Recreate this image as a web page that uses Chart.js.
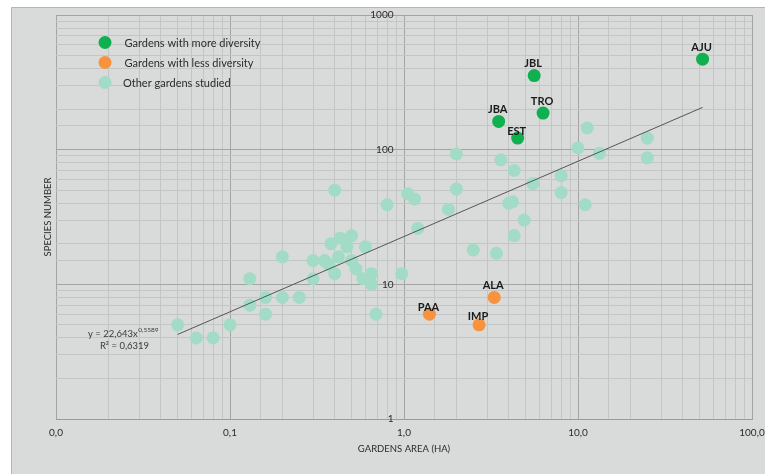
<!DOCTYPE html>
<html>
<head>
<meta charset="utf-8">
<script src="https://cdn.jsdelivr.net/npm/chart.js@4"></script>
<style>
  html, body { margin: 0; padding: 0; background: #ffffff; }
  #wrap { position: relative; width: 765px; height: 474px; }
  canvas { display: block; }
</style>
</head>
<body>
<div id="wrap"><canvas id="chart" width="765" height="474"></canvas></div>
<script>
// Species richness of urban gardens against their area (log-log)

// Gardens with more diversity
const moreNames   = ['AJU', 'JBL', 'TRO', 'JBA', 'EST'];
const moreArea    = [52, 5.6, 6.3, 3.5, 4.5];
const moreSpecies = [470, 355, 187, 162, 122];

// Gardens with less diversity
const lessNames   = ['ALA', 'PAA', 'IMP'];
const lessArea    = [3.3, 1.4, 2.7];
const lessSpecies = [8, 6, 5];

// Other gardens studied
const otherArea = [
  0.05, 0.064, 0.08, 0.1, 0.13, 0.13, 0.16, 0.16, 0.2, 0.2,
  0.25, 0.3, 0.3, 0.35, 0.37, 0.38, 0.43, 0.5, 0.47, 0.6,
  0.42, 0.5, 0.4, 0.53, 0.58, 0.65, 0.65, 0.69, 0.4, 0.8,
  0.97, 1.05, 1.15, 1.2, 1.8, 2.0, 2.0, 2.5, 3.4, 3.6,
  4.0, 4.2, 4.3, 4.3, 4.9, 5.5, 8, 8, 10, 11,
  11.3, 13.3, 25, 25
];
const otherSpecies = [
  5, 4, 4, 5, 11, 7, 8, 6, 16, 8,
  8, 15, 11, 15, 14, 20, 22, 23, 19, 19,
  16, 15, 12, 13, 11, 12, 10, 6, 50, 39,
  12, 47, 43, 26, 36, 93, 51, 18, 17, 84,
  40, 41, 70, 23, 30, 56, 64, 48, 103, 39,
  145, 94, 122, 87
];

// Power-law fit y = a * x^b, as reported with the chart
const fitA = 22.643;
const fitB = 0.5589;
const fitLabel = 'y = 22,643x';
const fitExpLabel = '0,5589';
const fitR2Label = 'R\u00B2 = 0,6319';

// Axis range (log decades)
const xMin = 0.01, xMax = 100;
const yMin = 1, yMax = 1000;
// species labels sit just left of the 1 ha line
const yLabelsAt = 0.87;

const legendLabels = ['Gardens with more diversity', 'Gardens with less diversity', 'Other gardens studied'];
const xTitle = 'GARDENS AREA (HA)';
const yTitle = 'SPECIES NUMBER';

const COL_MORE = '#0fb04f';
const COL_LESS = '#f7923f';
const COL_OTHER = '#a2dcc6';
const FONT = 'Lato, "Open Sans", sans-serif';

const toPoints = (xs, ys) => xs.map((x, i) => ({ x: x, y: ys[i] }));

const allArea = moreArea.concat(lessArea, otherArea);
const fitX0 = Math.min(...allArea);
const fitX1 = Math.max(...allArea);
const fitPoints = [fitX0, fitX1].map(x => ({ x: x, y: fitA * Math.pow(x, fitB) }));

const isDecade = v => {
  const l = Math.log10(v);
  return Math.abs(l - Math.round(l)) < 1e-6;
};

const gridColor = ctx => (ctx.tick && isDecade(ctx.tick.value)) ? '#a3a4a4' : '#c4c5c5';

// labels may overhang the plot without shrinking it
const noOverhang = scale => {
  scale.paddingLeft = 0;
  scale.paddingRight = 0;
  scale.paddingTop = 0;
  scale.paddingBottom = 0;
};

// Grey panel behind the chart
const panelPlugin = {
  id: 'panel',
  beforeDraw(chart) {
    const c = chart.ctx;
    c.save();
    c.fillStyle = '#ffffff';
    c.fillRect(0, 0, chart.width, chart.height);
    c.fillStyle = '#d9dada';
    c.fillRect(11, 7, chart.width - 11, chart.height - 7);
    c.strokeStyle = '#b4b5b5';
    c.lineWidth = 1;
    c.beginPath();
    c.moveTo(11.5, chart.height);
    c.lineTo(11.5, 7.5);
    c.lineTo(chart.width, 7.5);
    c.stroke();
    c.restore();
  }
};

// Point names, legend, fit equation and axis titles
const textPlugin = {
  id: 'texts',
  afterDatasetsDraw(chart, args, opts) {
    const c = chart.ctx;
    c.save();

    // names above highlighted gardens
    c.font = 'bold 11px ' + FONT;
    c.fillStyle = '#1a1a1a';
    c.textAlign = 'center';
    c.textBaseline = 'bottom';
    [[0, moreNames], [1, lessNames]].forEach(([di, names]) => {
      const meta = chart.getDatasetMeta(di);
      meta.data.forEach((pt, i) => {
        const dy = opts.labelLift[names[i]] ?? 6;
        c.fillText(names[i], pt.x - 1, pt.y - dy);
      });
    });

    // legend
    const colors = [COL_MORE, COL_LESS, COL_OTHER];
    c.font = '11px ' + FONT;
    c.textAlign = 'left';
    c.textBaseline = 'middle';
    legendLabels.forEach((txt, i) => {
      const y = 42.5 + i * 20;
      c.fillStyle = colors[i];
      c.beginPath();
      c.arc(105, y, 6.5, 0, Math.PI * 2);
      c.fill();
      c.fillStyle = '#2b2b2b';
      c.fillText(txt, i === 2 ? 123 : 124.5, y + 0.5);
    });

    // fit equation
    c.fillStyle = '#3a3a3a';
    c.font = '9.5px ' + FONT;
    c.textAlign = 'left';
    c.textBaseline = 'middle';
    const w = c.measureText(fitLabel).width;
    c.fillText(fitLabel, 88, 333.5);
    c.font = '6.5px ' + FONT;
    c.fillText(fitExpLabel, 88 + w + 0.5, 330);
    c.font = '9.5px ' + FONT;
    c.textAlign = 'center';
    c.fillText(fitR2Label, 124.5, 345.5);

    // axis titles
    c.fillStyle = '#2b2b2b';
    c.font = '9.5px ' + FONT;
    c.textAlign = 'center';
    c.fillText(xTitle, 404, 448.5);
    c.translate(48, 217);
    c.rotate(-Math.PI / 2);
    c.fillText(yTitle, 0, 0);

    c.restore();
  }
};

new Chart(document.getElementById('chart'), {
  type: 'scatter',
  data: {
    datasets: [
      {
        label: legendLabels[0],
        data: toPoints(moreArea, moreSpecies),
        backgroundColor: COL_MORE,
        borderWidth: 0,
        pointRadius: 6.5,
        order: 1
      },
      {
        label: legendLabels[1],
        data: toPoints(lessArea, lessSpecies),
        backgroundColor: COL_LESS,
        borderWidth: 0,
        pointRadius: 6.5,
        order: 1
      },
      {
        label: legendLabels[2],
        data: toPoints(otherArea, otherSpecies),
        backgroundColor: COL_OTHER,
        borderWidth: 0,
        pointRadius: 6.5,
        order: 2
      },
      {
        type: 'line',
        label: 'fit',
        data: fitPoints,
        borderColor: '#555555',
        borderWidth: 1,
        pointRadius: 0,
        fill: false,
        order: 0
      }
    ]
  },
  options: {
    responsive: false,
    animation: false,
    events: [],
    layout: { padding: { left: 56, right: 13, top: 15, bottom: 0 } },
    plugins: {
      legend: { display: false },
      tooltip: { enabled: false },
      texts: {
        labelLift: { AJU: 6, JBL: 7, TRO: 6, JBA: 6, EST: 1, ALA: 6, PAA: 1, IMP: 3 }
      }
    },
    scales: {
      x: {
        type: 'logarithmic',
        min: xMin,
        max: xMax,
        afterFit(scale) { scale.height = 55; noOverhang(scale); },
        grid: { color: gridColor, lineWidth: 1, drawTicks: false },
        border: { display: true, color: '#9a9b9b', width: 1 },
        ticks: {
          autoSkip: false,
          maxRotation: 0,
          padding: 8,
          color: '#2b2b2b',
          font: { family: FONT, size: 10 },
          callback: v => isDecade(v) ? v.toFixed(1).replace('.', ',') : ''
        }
      },
      y: {
        type: 'logarithmic',
        position: { x: yLabelsAt },
        min: yMin,
        max: yMax,
        afterFit: noOverhang,
        grid: { color: gridColor, lineWidth: 1, drawTicks: false },
        border: { display: false },
        ticks: {
          autoSkip: false,
          color: '#2b2b2b',
          font: { family: FONT, size: 10 },
          callback: v => isDecade(v) ? String(Math.round(v)) : ''
        }
      }
    }
  },
  plugins: [panelPlugin, textPlugin]
});
</script>
</body>
</html>
